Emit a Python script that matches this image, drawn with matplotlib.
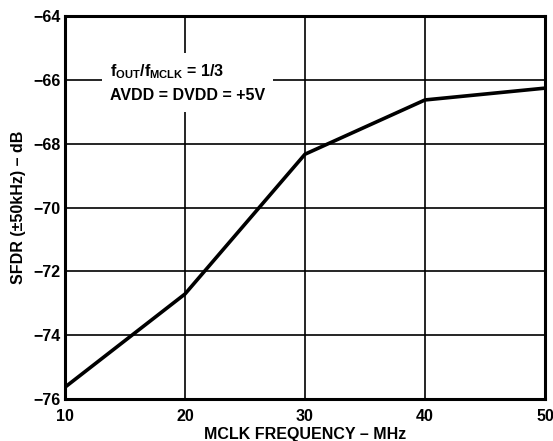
import matplotlib
matplotlib.use("Agg")
import matplotlib.pyplot as plt

mclk_mhz = [10, 20, 30, 40, 50]
sfdr_db = [-75.63, -72.71, -68.33, -66.63, -66.26]
x_ticks = [10, 20, 30, 40, 50]
y_ticks = [-76, -74, -72, -70, -68, -66, -64]

plt.rcParams['font.family'] = ['Liberation Sans', 'DejaVu Sans']
plt.rcParams['font.weight'] = 'bold'
plt.rcParams['mathtext.fontset'] = 'custom'
plt.rcParams['mathtext.rm'] = 'Liberation Sans:bold'
plt.rcParams['mathtext.it'] = 'Liberation Sans:bold'
plt.rcParams['mathtext.bf'] = 'Liberation Sans:bold'

fig = plt.figure(figsize=(5.53, 4.41), dpi=100)
ax = fig.add_axes([0.1175, 0.0952, 0.868, 0.8685])

ax.plot(mclk_mhz, sfdr_db, color='black', linewidth=2.6, solid_capstyle='butt', zorder=3)

ax.set_xlim(10, 50)
ax.set_ylim(-76, -64)
ax.set_xticks(x_ticks)
ax.set_yticks(y_ticks)
ax.grid(True, color='black', linewidth=1.2)
ax.tick_params(length=0, labelsize=11.5)
ax.tick_params(axis='x', pad=7)
ax.tick_params(axis='y', pad=3)
for lbl in ax.get_xticklabels() + ax.get_yticklabels():
    lbl.set_fontweight('bold')
for s in ax.spines.values():
    s.set_linewidth(2.2)

ax.set_xlabel("MCLK FREQUENCY \u2013 MHz", fontsize=11.5, fontweight='bold', labelpad=2)
ax.set_ylabel("SFDR (\u00b150kHz) \u2013 dB", fontsize=11.5, fontweight='bold', labelpad=5)

ax.text(13.75, -66.1, "$\\mathrm{f_{OUT}/f_{MCLK}}$ = 1/3\nAVDD = DVDD = +5V",
        fontsize=11.5, fontweight='bold', va='center', ha='left', linespacing=1.6,
        bbox=dict(facecolor='white', edgecolor='none', pad=6), zorder=4)

fig.savefig("out.png", dpi=100)
